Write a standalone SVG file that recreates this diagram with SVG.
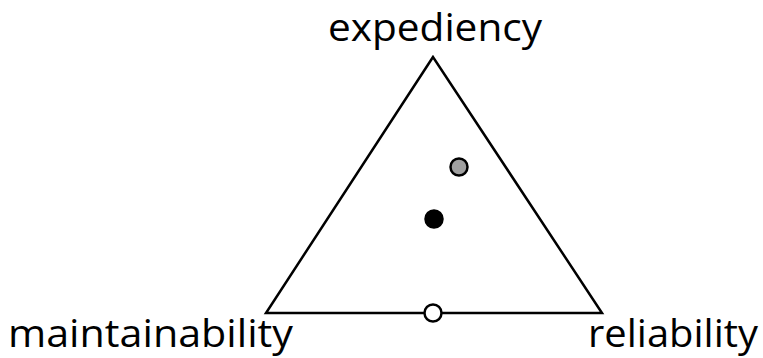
<svg xmlns="http://www.w3.org/2000/svg" width="763" height="358" viewBox="0 0 763 358">
<style>
.lbl{font-family:"Open Sans","Noto Sans","Liberation Sans",sans-serif;font-size:39px;fill:#000}
.tri{fill:none;stroke:#000;stroke-width:2.5;stroke-linejoin:miter}
.pt{stroke:#000;stroke-width:2.5}
</style>
<rect width="763" height="358" fill="#fff"/>
<g id="triangle"><polygon class="tri" points="433,57 266,313 602,313"/></g>
<g id="expediency"><text class="lbl" x="328" y="41" font-size="38" textLength="214" lengthAdjust="spacingAndGlyphs">expediency</text></g>
<g id="maintainability"><text class="lbl" x="8" y="347" textLength="285" lengthAdjust="spacingAndGlyphs">maintainability</text></g>
<g id="reliability"><text class="lbl" x="588" y="347" textLength="170" lengthAdjust="spacingAndGlyphs">reliability</text></g>
<g id="points">
<circle class="pt" cx="459" cy="167" r="8.5" fill="#a0a0a0"/>
<circle class="pt" cx="434" cy="219" r="8.5" fill="#000"/>
<circle class="pt" cx="433" cy="313" r="8.5" fill="#fff"/>
</g>
</svg>
